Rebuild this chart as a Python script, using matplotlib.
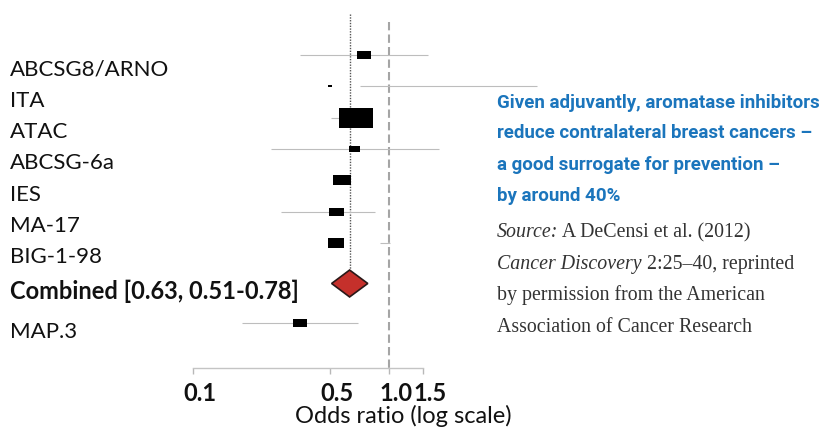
import matplotlib
matplotlib.use("Agg")
import matplotlib.pyplot as plt
from matplotlib.path import Path
from matplotlib.ticker import NullLocator, FixedLocator, FixedFormatter
from matplotlib import font_manager
import matplotlib.transforms as mtransforms

# ---------------- data ----------------
studies = ["ABCSG8/ARNO", "ITA", "ATAC", "ABCSG-6a", "IES", "MA-17", "BIG-1-98", "MAP.3"]
odds_ratio = [0.746, 0.503, 0.68, 0.667, 0.576, 0.540, 0.536, 0.351]
ci_low = [0.351, 0.711, 0.506, 0.25, 0.55, 0.281, 0.90, 0.178]
ci_high = [1.58, 5.69, 0.80, 1.80, 0.60, 0.848, 1.01, 0.695]
weights = [14, 5, 34, 11, 18, 15, 16, 14]   # relative study weights (box size)

combined_label = "Combined [0.63, 0.51-0.78]"
combined_or = 0.63
combined_low = 0.51
combined_high = 0.78

tick_values = [0.1, 0.5, 1.0, 1.5]
tick_labels = ["0.1", "0.5", "1.0", "1.5"]
xlabel = "Odds ratio (log scale)"

heading_lines = ["Given adjuvantly, aromatase inhibitors",
                 "reduce contralateral breast cancers \u2013",
                 "a good surrogate for prevention \u2013",
                 "by around 40%"]
# ---------------- layout ----------------
W, H = 824, 430
fig = plt.figure(figsize=(W / 100, H / 100), dpi=100)
fig.patch.set_facecolor("white")

ax_left, ax_right, ax_bottom_px = 150, 560, 368
ax = fig.add_axes([ax_left / W, (H - ax_bottom_px) / H, (ax_right - ax_left) / W, ax_bottom_px / H])
ax.set_xscale("log")
ax.set_xlim(0.0604, 7.46)
row_px = 31.3
first_row_px = 55
ax.set_ylim((ax_bottom_px - first_row_px) / row_px, -first_row_px / row_px)

rows = [0, 1, 2, 3, 4, 5, 6, 8.55]
combined_row = 7.3

names = {f.name for f in font_manager.fontManager.ttflist}
sans = "Lato" if "Lato" in names else "DejaVu Sans"

# reference lines
ax.vlines(1.0, -1.05, 10.0, colors="#a5a5a5", linewidth=1.5, linestyles=(0, (4, 2)), zorder=1)
ax.vlines(combined_or, -1.31, combined_row - 0.43, colors="#555555", linewidth=1.0,
          linestyles=(0, (1, 1)), zorder=1)

# CI lines
for r, lo, hi in zip(rows, ci_low, ci_high):
    ax.plot([lo, hi], [r, r], color="#bdbdbd", linewidth=0.8, zorder=2, clip_on=False,
            solid_capstyle="butt")

# boxes
hr = 0.58
box = Path([(-1, -hr), (1, -hr), (1, hr), (-1, hr), (-1, -hr)],
           [Path.MOVETO, Path.LINETO, Path.LINETO, Path.LINETO, Path.CLOSEPOLY])
for r, o, w in zip(rows, odds_ratio, weights):
    ax.plot([o], [r], marker=box, markersize=w * 0.72, color="black",
            markeredgewidth=0, linestyle="none", zorder=3)

# combined diamond
dh = 0.43
ax.fill([combined_low, combined_or, combined_high, combined_or],
        [combined_row, combined_row - dh, combined_row, combined_row + dh],
        facecolor="#C5302B", edgecolor="#2a1818", linewidth=1.2, zorder=3)

# axes styling
for s in ["top", "left", "right"]:
    ax.spines[s].set_visible(False)
ax.spines["bottom"].set_bounds(0.1, 1.5)
ax.spines["bottom"].set_color("#c4c4c4")
ax.spines["bottom"].set_linewidth(1.0)
ax.yaxis.set_visible(False)
ax.xaxis.set_major_locator(FixedLocator(tick_values))
ax.xaxis.set_major_formatter(FixedFormatter(tick_labels))
ax.xaxis.set_minor_locator(NullLocator())
ax.tick_params(axis="x", direction="out", length=4, width=1, color="#b8b8b8", pad=6)
offset = mtransforms.ScaledTranslation(7 / 100, 0, fig.dpi_scale_trans)
for lab in ax.get_xticklabels():
    lab.set_fontfamily(sans)
    lab.set_fontweight("bold")
    lab.set_fontsize(17)
    lab.set_color("#111111")
    lab.set_transform(lab.get_transform() + offset)

fig.text(403 / W, 1 - 416 / H, xlabel, ha="center", va="center", fontsize=17,
         family=sans, color="#111111")

# study labels
label_offsets = [0.65] * 7 + [0.48]
lab_trans = mtransforms.blended_transform_factory(fig.transFigure, ax.transData)
for name, r, off in zip(studies, rows, label_offsets):
    ax.text(10 / W, r + off, name, transform=lab_trans, ha="left", va="baseline",
            fontsize=16, family=sans, color="#111111", clip_on=False)
ax.text(10 / W, combined_row + 0.51, combined_label, transform=lab_trans, ha="left",
        va="baseline", fontsize=17, family=sans, fontweight="bold", color="#111111",
        clip_on=False)

# right-hand text
if "Liberation Sans Narrow" in names:
    head_family, head_size = "Liberation Sans Narrow", 13
else:
    head_family, head_size = "Roboto", 13.5
blue = "#1B75BC"
head_base = [107.5, 138.5, 169.5, 200.5]
for line, b in zip(heading_lines, head_base):
    fig.text(497 / W, 1 - b / H, line, ha="left", va="baseline", fontsize=head_size,
             family=head_family, fontweight="bold", color=blue)

serif = "Liberation Serif"
src_size = 14.3
src_col = "#333333"
renderer = fig.canvas.get_renderer()
src_lines = [[("Source:", "italic"), (" A DeCensi et al. (2012)", "normal")],
             [("Cancer Discovery", "italic"), (" 2:25\u201340, reprinted", "normal")],
             [("by permission from the American", "normal")],
             [("Association of Cancer Research", "normal")]]
src_base = [237, 269, 300, 332]
for parts, b in zip(src_lines, src_base):
    x = 497
    for txt, style in parts:
        t = fig.text(x / W, 1 - b / H, txt, ha="left", va="baseline", fontsize=src_size,
                     family=serif, style=style, color=src_col)
        x += t.get_window_extent(renderer).width

fig.savefig("out.png", dpi=100, facecolor="white")
